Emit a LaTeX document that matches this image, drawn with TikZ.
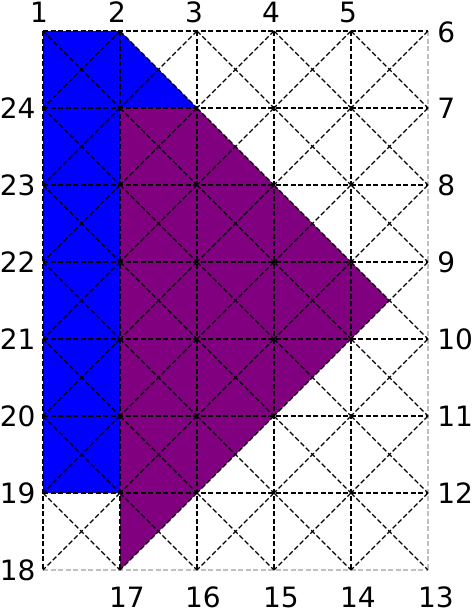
\documentclass[tikz,border=0pt]{standalone}
\usepackage{fontspec}
\setmainfont{DejaVu Sans}
\definecolor{fillblue}{RGB}{0,0,255}
\definecolor{fillpurple}{RGB}{128,0,128}
\newcommand{\lblfont}{\fontsize{28pt}{30pt}\selectfont}
\begin{document}
\begin{tikzpicture}[x=1pt,y=-1pt,
  lbl/.style={font=\lblfont, inner sep=0pt},
  gridline/.style={black, line width=1.3pt, dash pattern=on 5pt off 2.5pt},
  edgeline/.style={black!25, line width=1.1pt, dash pattern=on 5pt off 2.5pt}]
\useasboundingbox (0,0) rectangle (473,613);
% regions
\fill[fillblue] (43,31) -- (120,31) -- (197,108) -- (120,108) -- (120,493) -- (43,493) -- cycle;
\fill[fillpurple] (120,108) -- (197,108) -- (389.5,300.5) -- (120,570) -- cycle;
% outer light edges
\draw[edgeline] (428,31) -- (428,570);
\draw[edgeline] (43,570) -- (428,570);
% grid lines
\foreach \x in {43,120,197,274,351} \draw[gridline] (\x,31) -- (\x,570);
\foreach \y in {31,108,185,262,339,416,493} \draw[gridline] (43,\y) -- (428,\y);
% diagonals
\foreach \x in {43,120,197,274,351} {
  \foreach \y in {31,108,185,262,339,416,493} {
    \draw[gridline] (\x,\y) -- ({\x+77},{\y+77});
    \draw[gridline] ({\x+77},\y) -- (\x,{\y+77});
  }
}
% top labels
\node[lbl] (l1) at (39,12.5) {1};
\node[lbl] (l2) at (117,12.5) {2};
\node[lbl] (l3) at (194,12.5) {3};
\node[lbl] (l4) at (271,12.5) {4};
\node[lbl] (l5) at (348,12.5) {5};
% right labels
\node[lbl, anchor=west] (l6) at (437.2,32) {6};
\node[lbl, anchor=west] (l7) at (437.2,108) {7};
\node[lbl, anchor=west] (l8) at (437.2,185) {8};
\node[lbl, anchor=west] (l9) at (437.2,262) {9};
\node[lbl, anchor=west] (l10) at (437.2,339) {10};
\node[lbl, anchor=west] (l11) at (437.2,416) {11};
\node[lbl, anchor=west] (l12) at (437.2,493) {12};
% bottom labels
\node[lbl] (l13) at (436,597) {13};
\node[lbl] (l14) at (358,597) {14};
\node[lbl] (l15) at (281,597) {15};
\node[lbl] (l16) at (203,597) {16};
\node[lbl] (l17) at (127,597) {17};
% left labels
\node[lbl, anchor=east] (l18) at (35.7,570) {18};
\node[lbl, anchor=east] (l19) at (35.7,493) {19};
\node[lbl, anchor=east] (l20) at (35.7,416) {20};
\node[lbl, anchor=east] (l21) at (35.7,339) {21};
\node[lbl, anchor=east] (l22) at (35.7,262) {22};
\node[lbl, anchor=east] (l23) at (35.7,185) {23};
\node[lbl, anchor=east] (l24) at (35.7,108) {24};
\end{tikzpicture}
\end{document}
